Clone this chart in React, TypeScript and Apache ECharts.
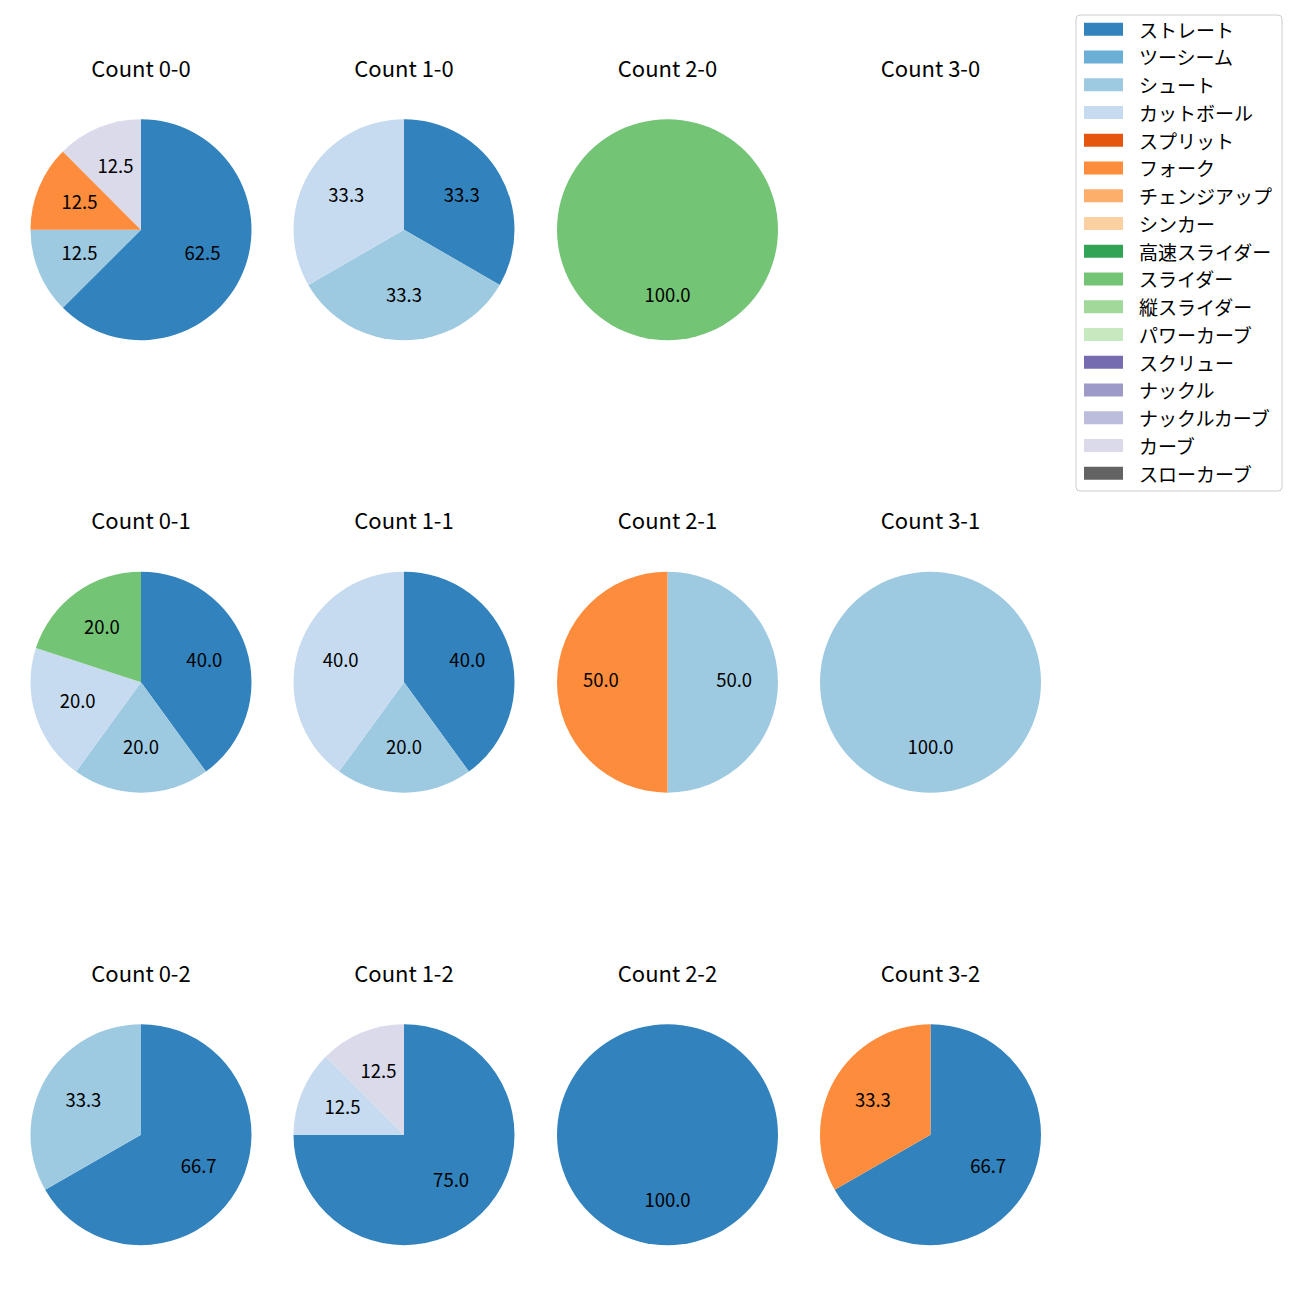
import React, { useEffect, useRef } from "react";
import * as echarts from "echarts";

const CATEGORIES = [
  "ストレート", "ツーシーム", "シュート", "カットボール", "スプリット", "フォーク",
  "チェンジアップ", "シンカー", "高速スライダー", "スライダー", "縦スライダー",
  "パワーカーブ", "スクリュー", "ナックル", "ナックルカーブ", "カーブ", "スローカーブ",
];
const COLORS = [
  "#3182bd", "#6baed6", "#9ecae1", "#c6dbef", "#e6550d", "#fd8d3c",
  "#fdae6b", "#fdd0a2", "#31a354", "#74c476", "#a1d99b",
  "#c7e9c0", "#756bb1", "#9e9ac8", "#bcbddc", "#dadaeb", "#636363",
];

// percentages per panel (clockwise from 12 o'clock)
const COUNT_0_0: [string, number][] = [["ストレート", 62.5], ["シュート", 12.5], ["フォーク", 12.5], ["カーブ", 12.5]];
const COUNT_1_0: [string, number][] = [["ストレート", 33.3], ["シュート", 33.3], ["カットボール", 33.3]];
const COUNT_2_0: [string, number][] = [["スライダー", 100]];
const COUNT_3_0: [string, number][] = [];
const COUNT_0_1: [string, number][] = [["ストレート", 40], ["シュート", 20], ["カットボール", 20], ["スライダー", 20]];
const COUNT_1_1: [string, number][] = [["ストレート", 40], ["シュート", 20], ["カットボール", 40]];
const COUNT_2_1: [string, number][] = [["シュート", 50], ["フォーク", 50]];
const COUNT_3_1: [string, number][] = [["シュート", 100]];
const COUNT_0_2: [string, number][] = [["ストレート", 66.7], ["シュート", 33.3]];
const COUNT_1_2: [string, number][] = [["ストレート", 75], ["カットボール", 12.5], ["カーブ", 12.5]];
const COUNT_2_2: [string, number][] = [["ストレート", 100]];
const COUNT_3_2: [string, number][] = [["ストレート", 66.7], ["フォーク", 33.3]];

const PANELS: { title: string; data: [string, number][] }[][] = [
  [
    { title: "Count 0-0", data: COUNT_0_0 },
    { title: "Count 1-0", data: COUNT_1_0 },
    { title: "Count 2-0", data: COUNT_2_0 },
    { title: "Count 3-0", data: COUNT_3_0 },
  ],
  [
    { title: "Count 0-1", data: COUNT_0_1 },
    { title: "Count 1-1", data: COUNT_1_1 },
    { title: "Count 2-1", data: COUNT_2_1 },
    { title: "Count 3-1", data: COUNT_3_1 },
  ],
  [
    { title: "Count 0-2", data: COUNT_0_2 },
    { title: "Count 1-2", data: COUNT_1_2 },
    { title: "Count 2-2", data: COUNT_2_2 },
    { title: "Count 3-2", data: COUNT_3_2 },
  ],
];

const FONT = "Noto Sans CJK JP";
const COL_X = [141, 404, 667.5, 930.5];
const ROW_Y = [229.7, 682.2, 1134.7];
const R = 110.5;
const LABEL_R0 = 16.7;
const LABEL_SHIFT_Y = -2.8;
const TITLE_OFFSET = 163;

const colorOf = (name: string) => COLORS[CATEGORIES.indexOf(name)];

export default function App() {
  const ref = useRef<HTMLDivElement>(null);
  useEffect(() => {
    if (!ref.current) return;
    const chart = echarts.init(ref.current, null, { renderer: "svg" });
    const series: any[] = [
      {
        type: "pie",
        name: "legend-source",
        center: [-500, -500],
        radius: [0, 0],
        silent: true,
        label: { show: false },
        labelLine: { show: false },
        data: CATEGORIES.map((c) => ({ name: c, value: 1, itemStyle: { color: colorOf(c) } })),
      },
    ];
    const graphics: any[] = [];
    PANELS.forEach((row, ri) => {
      row.forEach((p, ci) => {
        const cx = COL_X[ci];
        const cy = ROW_Y[ri];
        graphics.push({
          type: "text",
          x: cx,
          y: cy - TITLE_OFFSET,
          style: {
            text: p.title,
            fill: "#000",
            fontSize: 22,
            fontFamily: FONT,
            textAlign: "center",
            textVerticalAlign: "middle",
          },
        });
        if (p.data.length === 0) return;
        const d = p.data.map(([n, v]) => ({ name: n, value: v, itemStyle: { color: colorOf(n) } }));
        series.push({
          type: "pie",
          center: [cx, cy],
          radius: [0, R],
          startAngle: 90,
          clockwise: true,
          avoidLabelOverlap: false,
          itemStyle: { borderWidth: 0 },
          label: { show: false },
          labelLine: { show: false },
          emphasis: { disabled: true },
          data: d,
        });
        series.push({
          type: "pie",
          center: [cx, cy + LABEL_SHIFT_Y],
          radius: [LABEL_R0, R],
          startAngle: 90,
          clockwise: true,
          silent: true,
          avoidLabelOverlap: false,
          emphasis: { disabled: true },
          labelLine: { show: false },
          label: {
            show: true,
            position: "inside",
            color: "#000",
            fontSize: 18.5,
            fontFamily: FONT,
            formatter: (prm: any) => Number(prm.percent).toFixed(1),
          },
          data: p.data.map(([n, v]) => ({ name: n, value: v, itemStyle: { color: "rgba(0,0,0,0)", borderWidth: 0 } })),
        });
      });
    });
    chart.setOption({
      animation: false,
      backgroundColor: "#fff",
      legend: {
        data: CATEGORIES,
        orient: "vertical",
        left: 1076,
        top: 15,
        icon: "rect",
        itemWidth: 39,
        itemHeight: 13,
        itemGap: 8.75,
        padding: [4.7, 10, 8.3, 8],
        borderColor: "#cccccc",
        borderWidth: 1,
        borderRadius: 4,
        backgroundColor: "rgba(255,255,255,0.8)",
        selectedMode: false,
        textStyle: {
          fontSize: 19,
          lineHeight: 19,
          fontFamily: FONT,
          color: "#000",
          padding: [0, 0, 0, 11],
        },
      },
      graphic: graphics,
      series,
    });
    return () => chart.dispose();
  }, []);
  return (
    <div
      ref={ref}
      style={{ position: "fixed", left: 0, top: 0, width: 1300, height: 1300 }}
    />
  );
}
